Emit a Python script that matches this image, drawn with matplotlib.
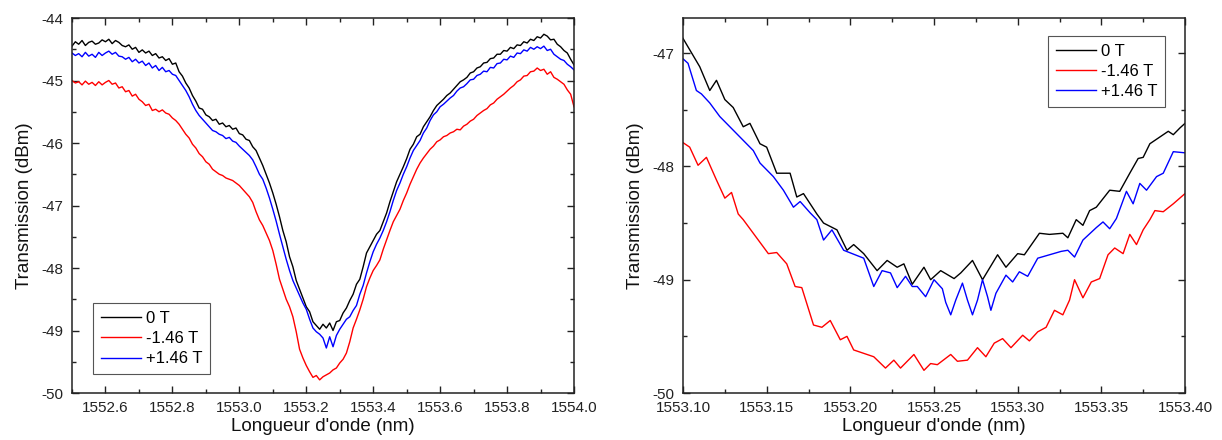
import matplotlib
matplotlib.use("Agg")
import matplotlib.pyplot as plt
from matplotlib.ticker import MultipleLocator, FormatStrFormatter

plt.rcParams['font.family'] = ['Liberation Sans', 'DejaVu Sans']

labels = ["0 T", "-1.46 T", "+1.46 T"]
colors = ["#000000", "#ff0000", "#0000ff"]

# ---------- left panel: full resonance (1552.50 .. 1554.00 nm, step 0.01 nm) ----------
left_0T = [-44.45, -44.38, -44.42, -44.36, -44.44, -44.39, -44.37, -44.42, -44.40, -44.35,
           -44.38, -44.34, -44.41, -44.36, -44.39, -44.44, -44.46, -44.43, -44.50, -44.47,
           -44.55, -44.51, -44.56, -44.53, -44.60, -44.57, -44.64, -44.62, -44.68, -44.65,
           -44.74, -44.72, -44.86, -44.93, -45.04, -45.12, -45.24, -45.33, -45.44, -45.46,
           -45.55, -45.58, -45.64, -45.62, -45.70, -45.68, -45.74, -45.72, -45.78, -45.76,
           -45.85, -45.87, -45.94, -45.96, -46.06, -46.12, -46.24, -46.36, -46.50, -46.64,
           -46.80, -46.98, -47.18, -47.40, -47.58, -47.82, -47.98, -48.20, -48.34, -48.48,
           -48.62, -48.70, -48.86, -48.92, -48.98, -48.90, -48.96, -48.88, -49.00, -48.86,
           -48.84, -48.72, -48.64, -48.52, -48.42, -48.26, -48.18, -47.98, -47.76, -47.66,
           -47.56, -47.46, -47.40, -47.26, -47.12, -46.94, -46.78, -46.62, -46.50, -46.38,
           -46.25, -46.10, -46.02, -45.90, -45.86, -45.74, -45.66, -45.58, -45.48, -45.40,
           -45.35, -45.30, -45.24, -45.20, -45.14, -45.08, -45.02, -44.99, -44.95, -44.88,
           -44.86, -44.80, -44.78, -44.72, -44.71, -44.65, -44.64, -44.58, -44.58, -44.52,
           -44.53, -44.47, -44.49, -44.43, -44.44, -44.38, -44.40, -44.34, -44.36, -44.30,
           -44.32, -44.26, -44.29, -44.35, -44.34, -44.42, -44.46, -44.52, -44.56, -44.66,
           -44.75]

left_m146 = [-45.00, -45.04, -45.02, -45.07, -45.01, -45.06, -45.03, -45.08, -45.02, -45.07,
             -45.03, -45.00, -45.06, -45.04, -45.12, -45.10, -45.18, -45.16, -45.25, -45.22,
             -45.30, -45.34, -45.40, -45.38, -45.48, -45.46, -45.50, -45.47, -45.52, -45.54,
             -45.60, -45.64, -45.70, -45.78, -45.86, -45.92, -46.02, -46.08, -46.17, -46.22,
             -46.30, -46.34, -46.42, -46.46, -46.50, -46.52, -46.56, -46.58, -46.60, -46.64,
             -46.68, -46.74, -46.80, -46.86, -46.95, -47.10, -47.23, -47.32, -47.44, -47.56,
             -47.72, -47.94, -48.18, -48.34, -48.50, -48.62, -48.78, -49.02, -49.30, -49.44,
             -49.56, -49.66, -49.75, -49.72, -49.79, -49.74, -49.71, -49.68, -49.63, -49.60,
             -49.52, -49.46, -49.36, -49.18, -48.96, -48.82, -48.67, -48.50, -48.30, -48.16,
             -48.04, -47.96, -47.87, -47.70, -47.55, -47.40, -47.26, -47.16, -47.06, -46.92,
             -46.80, -46.66, -46.54, -46.42, -46.32, -46.24, -46.17, -46.10, -46.05, -45.98,
             -45.95, -45.90, -45.88, -45.84, -45.82, -45.78, -45.79, -45.73, -45.70, -45.65,
             -45.62, -45.56, -45.52, -45.48, -45.45, -45.39, -45.36, -45.30, -45.26, -45.22,
             -45.17, -45.12, -45.08, -45.02, -44.99, -44.93, -44.92, -44.86, -44.85, -44.80,
             -44.84, -44.82, -44.90, -44.86, -44.95, -44.98, -45.02, -45.06, -45.15, -45.22,
             -45.42]

left_p146 = [-44.56, -44.60, -44.57, -44.62, -44.55, -44.61, -44.58, -44.63, -44.55, -44.60,
             -44.56, -44.53, -44.58, -44.55, -44.61, -44.62, -44.66, -44.63, -44.70, -44.66,
             -44.72, -44.69, -44.76, -44.72, -44.80, -44.76, -44.84, -44.79, -44.86, -44.84,
             -44.90, -44.92, -45.00, -45.08, -45.16, -45.26, -45.38, -45.48, -45.56, -45.62,
             -45.68, -45.74, -45.80, -45.82, -45.86, -45.88, -45.93, -45.91, -45.97, -45.99,
             -46.05, -46.10, -46.15, -46.20, -46.27, -46.38, -46.50, -46.58, -46.72, -46.88,
             -47.06, -47.25, -47.46, -47.66, -47.86, -48.04, -48.20, -48.32, -48.44, -48.56,
             -48.66, -48.82, -48.96, -49.02, -49.06, -49.12, -49.28, -49.10, -49.26, -49.08,
             -48.98, -48.90, -48.82, -48.78, -48.68, -48.60, -48.42, -48.28, -48.08, -47.90,
             -47.74, -47.62, -47.52, -47.40, -47.26, -47.10, -46.92, -46.76, -46.64, -46.50,
             -46.38, -46.24, -46.12, -46.04, -45.96, -45.84, -45.76, -45.64, -45.55, -45.50,
             -45.42, -45.38, -45.33, -45.28, -45.24, -45.17, -45.12, -45.10, -45.05, -44.99,
             -44.98, -44.92, -44.90, -44.85, -44.86, -44.79, -44.80, -44.73, -44.72, -44.66,
             -44.67, -44.61, -44.63, -44.56, -44.57, -44.51, -44.53, -44.47, -44.50, -44.46,
             -44.49, -44.45, -44.52, -44.50, -44.58, -44.62, -44.66, -44.68, -44.74, -44.78,
             -44.83]

wl_left = [1552.50 + 0.01 * i for i in range(151)]

# ---------- right panel: zoom on the minimum ----------
wl_r_0T = [1553.100, 1553.104, 1553.110, 1553.116, 1553.120, 1553.125, 1553.130, 1553.136,
           1553.140, 1553.146, 1553.150, 1553.156, 1553.164, 1553.168, 1553.172, 1553.180,
           1553.184, 1553.192, 1553.198, 1553.202, 1553.208, 1553.216, 1553.222, 1553.228,
           1553.232, 1553.237, 1553.244, 1553.248, 1553.254, 1553.262, 1553.266, 1553.273,
           1553.279, 1553.288, 1553.293, 1553.300, 1553.304, 1553.313, 1553.319, 1553.327,
           1553.330, 1553.335, 1553.339, 1553.343, 1553.347, 1553.355, 1553.361, 1553.367,
           1553.372, 1553.375, 1553.379, 1553.384, 1553.390, 1553.393, 1553.397, 1553.400]
right_0T = [-46.87, -46.97, -47.12, -47.33, -47.24, -47.41, -47.48, -47.65,
            -47.62, -47.80, -47.83, -48.06, -48.06, -48.27, -48.24, -48.42,
            -48.50, -48.56, -48.74, -48.69, -48.77, -48.92, -48.83, -48.89,
            -48.86, -49.04, -48.89, -49.00, -48.92, -48.99, -48.94, -48.83,
            -49.00, -48.78, -48.89, -48.77, -48.78, -48.59, -48.60, -48.59,
            -48.63, -48.47, -48.52, -48.39, -48.36, -48.21, -48.22, -48.06,
            -47.93, -47.92, -47.80, -47.75, -47.69, -47.72, -47.66, -47.62]

wl_r_m146 = [1553.100, 1553.104, 1553.109, 1553.114, 1553.120, 1553.125, 1553.129, 1553.133,
             1553.136, 1553.144, 1553.151, 1553.156, 1553.162, 1553.167, 1553.171, 1553.178,
             1553.183, 1553.188, 1553.194, 1553.198, 1553.202, 1553.208, 1553.214, 1553.221,
             1553.226, 1553.230, 1553.238, 1553.244, 1553.248, 1553.252, 1553.260, 1553.264,
             1553.270, 1553.276, 1553.281, 1553.286, 1553.291, 1553.296, 1553.303, 1553.307,
             1553.312, 1553.317, 1553.322, 1553.327, 1553.331, 1553.334, 1553.339, 1553.344,
             1553.349, 1553.354, 1553.358, 1553.363, 1553.367, 1553.371, 1553.375, 1553.379,
             1553.382, 1553.387, 1553.393, 1553.400]
right_m146 = [-47.79, -47.83, -47.99, -47.92, -48.12, -48.28, -48.23, -48.42,
              -48.47, -48.63, -48.77, -48.76, -48.86, -49.06, -49.07, -49.40,
              -49.42, -49.36, -49.53, -49.50, -49.62, -49.65, -49.68, -49.78,
              -49.71, -49.78, -49.66, -49.80, -49.74, -49.75, -49.66, -49.72,
              -49.71, -49.60, -49.68, -49.56, -49.52, -49.60, -49.49, -49.54,
              -49.46, -49.42, -49.27, -49.31, -49.18, -49.00, -49.16, -49.02,
              -48.99, -48.78, -48.72, -48.77, -48.60, -48.69, -48.56, -48.47,
              -48.39, -48.40, -48.33, -48.24]

wl_r_p146 = [1553.100, 1553.103, 1553.108, 1553.111, 1553.116, 1553.122, 1553.130, 1553.136,
             1553.142, 1553.146, 1553.154, 1553.160, 1553.166, 1553.170, 1553.176, 1553.180,
             1553.184, 1553.189, 1553.196, 1553.208, 1553.214, 1553.219, 1553.224, 1553.228,
             1553.233, 1553.237, 1553.240, 1553.245, 1553.250, 1553.255, 1553.257, 1553.260,
             1553.263, 1553.267, 1553.270, 1553.273, 1553.276, 1553.279, 1553.282, 1553.284,
             1553.287, 1553.293, 1553.297, 1553.301, 1553.306, 1553.312, 1553.319, 1553.326,
             1553.330, 1553.334, 1553.339, 1553.347, 1553.351, 1553.355, 1553.359, 1553.365,
             1553.369, 1553.373, 1553.377, 1553.383, 1553.387, 1553.393, 1553.400]
right_p146 = [-47.05, -47.09, -47.33, -47.36, -47.44, -47.56, -47.68, -47.77,
              -47.86, -47.97, -48.09, -48.21, -48.36, -48.31, -48.41, -48.47,
              -48.65, -48.56, -48.74, -48.81, -49.06, -48.92, -48.94, -49.07,
              -48.97, -49.06, -49.06, -49.15, -49.00, -49.08, -49.20, -49.31,
              -49.18, -49.03, -49.18, -49.31, -49.18, -49.00, -49.15, -49.27,
              -49.12, -48.96, -49.02, -48.93, -48.97, -48.81, -48.78, -48.75,
              -48.74, -48.80, -48.65, -48.54, -48.49, -48.55, -48.46, -48.22,
              -48.33, -48.15, -48.21, -48.09, -48.06, -47.87, -47.88]

W, H = 1222, 440
fig = plt.figure(figsize=(W / 100, H / 100), dpi=100)
axL = fig.add_axes([72 / W, (H - 393) / H, 502 / W, 375 / H])
axR = fig.add_axes([683 / W, (H - 393) / H, 502 / W, 375 / H])

lw = 1.0
axL.plot(wl_left, left_0T, color=colors[0], lw=lw, label=labels[0])
axL.plot(wl_left, left_m146, color=colors[1], lw=lw, label=labels[1])
axL.plot(wl_left, left_p146, color=colors[2], lw=lw, label=labels[2])

axR.plot(wl_r_0T, right_0T, color=colors[0], lw=lw, label=labels[0])
axR.plot(wl_r_m146, right_m146, color=colors[1], lw=lw, label=labels[1])
axR.plot(wl_r_p146, right_p146, color=colors[2], lw=lw, label=labels[2])

axL.set_xlim(1552.5, 1554.0)
axL.set_ylim(-50, -44)
axL.xaxis.set_major_locator(MultipleLocator(0.2))
axL.xaxis.set_minor_locator(MultipleLocator(0.1))
axL.xaxis.set_major_formatter(FormatStrFormatter('%.1f'))
axL.yaxis.set_major_locator(MultipleLocator(1))
axL.yaxis.set_minor_locator(MultipleLocator(0.5))
axL.yaxis.set_major_formatter(FormatStrFormatter('%d'))

axR.set_xlim(1553.10, 1553.40)
axR.set_ylim(-50, -46.69)
axR.xaxis.set_major_locator(MultipleLocator(0.05))
axR.xaxis.set_minor_locator(MultipleLocator(0.025))
axR.xaxis.set_major_formatter(FormatStrFormatter('%.2f'))
axR.yaxis.set_major_locator(MultipleLocator(1))
axR.yaxis.set_minor_locator(MultipleLocator(0.5))
axR.yaxis.set_major_formatter(FormatStrFormatter('%d'))

for ax in (axL, axR):
    ax.tick_params(which='both', direction='in', top=True, right=True,
                   labelsize=11, pad=6, color='#222222', labelcolor='#222222')
    ax.tick_params(which='major', length=5, width=1.0)
    ax.tick_params(which='minor', length=3, width=1.0)
    for s in ax.spines.values():
        s.set_linewidth(1.1)
        s.set_color('#222222')
    ax.set_xlabel("Longueur d'onde (nm)", fontsize=13.5, labelpad=2, color='#111111')
    ax.set_ylabel("Transmission (dBm)", fontsize=13.5, labelpad=6, color='#111111')

legL = axL.legend(loc='lower left', bbox_to_anchor=(0.042, 0.051), borderaxespad=0,
                  fontsize=12, handlelength=2.4, handletextpad=0.3, labelspacing=0.32,
                  fancybox=False, framealpha=1, edgecolor='#555555', borderpad=0.45)
legR = axR.legend(loc='upper right', bbox_to_anchor=(0.960, 0.952), borderaxespad=0,
                  fontsize=12, handlelength=2.4, handletextpad=0.3, labelspacing=0.32,
                  fancybox=False, framealpha=1, edgecolor='#555555', borderpad=0.45)
for leg in (legL, legR):
    leg.get_frame().set_linewidth(0.8)

fig.savefig("out.png", dpi=100)
